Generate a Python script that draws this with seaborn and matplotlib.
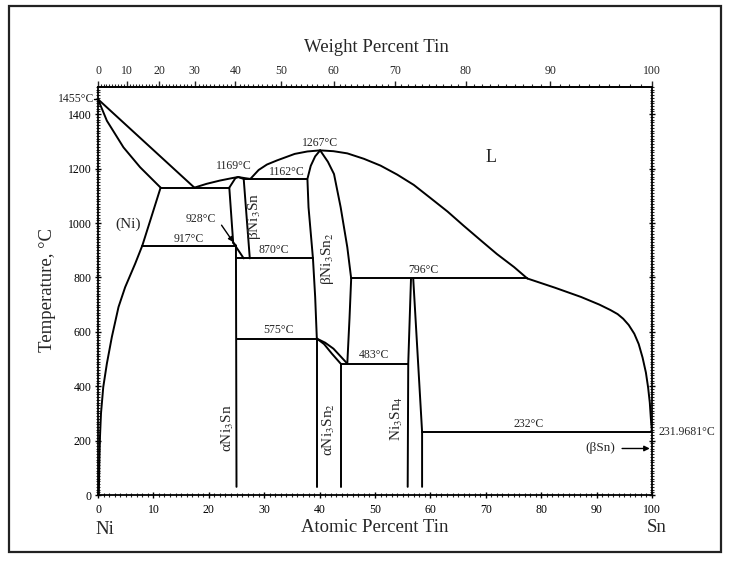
import numpy as np
import pandas as pd
import matplotlib
matplotlib.use("Agg")
import matplotlib.pyplot as plt
from matplotlib.ticker import MultipleLocator, FixedLocator
from matplotlib.patches import Rectangle
import seaborn as sns

# ---------------------------------------------------------------
# Ni-Sn phase boundaries, (atomic % Sn, temperature in deg C)
# ---------------------------------------------------------------
liq_ni_at = [0, 17.4]
liq_ni_T = [1455, 1130]

sol_ni_at = [0, 1.6, 4.6, 7.6, 11.3]
sol_ni_T = [1455, 1376, 1278, 1205, 1130]

solvus_ni_at = [11.3, 9.6, 8.0, 6.7, 4.9, 3.7, 2.5, 1.6, 0.95, 0.54, 0.36, 0.24, 0.15]
solvus_ni_T = [1130, 1020, 917, 850, 764, 691, 581, 483, 397, 300, 214, 116, 0]

eut_1130_at = [11.3, 23.7]
eut_1130_T = [1130, 1130]

liq_ni3sn_at = [17.4, 19.6, 22.0, 24.2, 25.3, 26.5, 27.5]
liq_ni3sn_T = [1130, 1144, 1156, 1165, 1169, 1165, 1162]

sol_b_ni3sn_at = [23.7, 24.8, 25.3, 26.3]
sol_b_ni3sn_T = [1130, 1165, 1169, 1162]

b_ni3sn_left_at = [23.7, 24.4]
b_ni3sn_left_T = [1130, 928]

b_ni3sn_right_at = [26.3, 27.4]
b_ni3sn_right_T = [1162, 870]

ab_ni3sn_at = [24.4, 26.3]
ab_ni3sn_T = [928, 870]

eut_928_at = [24.4, 24.9]
eut_928_T = [928, 917]

eut_917_at = [8.0, 24.9]
eut_917_T = [917, 917]

a_ni3sn_at = [24.9, 25.0]
a_ni3sn_T = [917, 30]

eut_1162_at = [26.3, 37.8]
eut_1162_T = [1162, 1162]

dome_at = [27.5, 29.0, 30.5, 32.3, 35.5, 37.8, 40.1, 42.5, 45.0, 48.0, 51.0,
           54.0, 57.0, 60.0, 63.1, 66.0, 69.1, 72.0, 75.1, 77.5]
dome_T = [1162, 1195, 1215, 1230, 1254, 1263, 1267, 1264, 1256, 1236, 1211,
          1178, 1140, 1092, 1042, 990, 936, 886, 838, 796]

b_ni3sn2_left_at = [40.1, 39.2, 38.4, 37.8, 38.0, 38.8, 39.2, 39.5]
b_ni3sn2_left_T = [1267, 1245, 1210, 1162, 1058, 870, 728, 575]

b_ni3sn2_right_at = [40.1, 41.5, 42.6, 43.8, 45.0, 45.7, 45.4, 45.0]
b_ni3sn2_right_T = [1267, 1225, 1180, 1058, 911, 796, 650, 483]

eut_870_at = [25.0, 38.8]
eut_870_T = [870, 870]

eut_575_at = [25.0, 39.5]
eut_575_T = [575, 575]

ab_ni3sn2_upper_at = [39.5, 41.0, 42.5, 44.0, 45.0]
ab_ni3sn2_upper_T = [575, 560, 538, 505, 483]

ab_ni3sn2_lower_at = [39.5, 40.8, 42.2, 43.8]
ab_ni3sn2_lower_T = [575, 555, 520, 483]

a_ni3sn2_left_at = [39.5, 39.5]
a_ni3sn2_left_T = [575, 30]

a_ni3sn2_right_at = [43.8, 43.8]
a_ni3sn2_right_T = [483, 30]

eut_483_at = [43.8, 56.0]
eut_483_T = [483, 483]

per_796_at = [45.7, 77.5]
per_796_T = [796, 796]

ni3sn4_left_at = [56.5, 56.0, 55.9]
ni3sn4_left_T = [796, 483, 30]

ni3sn4_right_at = [56.9, 58.5, 58.5]
ni3sn4_right_T = [796, 232, 30]

eut_232_at = [58.5, 100]
eut_232_T = [232, 232]

liq_sn_at = [77.5, 82.5, 87.2, 90.5, 92.5, 93.8, 94.8, 95.8, 96.8, 97.6, 98.3,
             98.9, 99.3, 99.6, 99.8, 100]
liq_sn_T = [796, 762, 728, 700, 680, 665, 648, 625, 593, 555, 505,
            450, 395, 340, 280, 232]

boundaries = {
    "liq_ni": (liq_ni_at, liq_ni_T),
    "sol_ni": (sol_ni_at, sol_ni_T),
    "solvus_ni": (solvus_ni_at, solvus_ni_T),
    "eut_1130": (eut_1130_at, eut_1130_T),
    "liq_ni3sn": (liq_ni3sn_at, liq_ni3sn_T),
    "sol_b_ni3sn": (sol_b_ni3sn_at, sol_b_ni3sn_T),
    "b_ni3sn_left": (b_ni3sn_left_at, b_ni3sn_left_T),
    "b_ni3sn_right": (b_ni3sn_right_at, b_ni3sn_right_T),
    "ab_ni3sn": (ab_ni3sn_at, ab_ni3sn_T),
    "eut_928": (eut_928_at, eut_928_T),
    "eut_917": (eut_917_at, eut_917_T),
    "a_ni3sn": (a_ni3sn_at, a_ni3sn_T),
    "eut_1162": (eut_1162_at, eut_1162_T),
    "dome": (dome_at, dome_T),
    "b_ni3sn2_left": (b_ni3sn2_left_at, b_ni3sn2_left_T),
    "b_ni3sn2_right": (b_ni3sn2_right_at, b_ni3sn2_right_T),
    "eut_870": (eut_870_at, eut_870_T),
    "eut_575": (eut_575_at, eut_575_T),
    "ab_ni3sn2_upper": (ab_ni3sn2_upper_at, ab_ni3sn2_upper_T),
    "ab_ni3sn2_lower": (ab_ni3sn2_lower_at, ab_ni3sn2_lower_T),
    "a_ni3sn2_left": (a_ni3sn2_left_at, a_ni3sn2_left_T),
    "a_ni3sn2_right": (a_ni3sn2_right_at, a_ni3sn2_right_T),
    "eut_483": (eut_483_at, eut_483_T),
    "per_796": (per_796_at, per_796_T),
    "ni3sn4_left": (ni3sn4_left_at, ni3sn4_left_T),
    "ni3sn4_right": (ni3sn4_right_at, ni3sn4_right_T),
    "eut_232": (eut_232_at, eut_232_T),
    "liq_sn": (liq_sn_at, liq_sn_T),
}

rows = []
for name, (xs, ys) in boundaries.items():
    for order, (x, y) in enumerate(zip(xs, ys)):
        rows.append((name, order, x, y))
df = pd.DataFrame(rows, columns=["boundary", "order", "at_pct", "temp"])

# invariant / special temperatures written on the diagram
temp_labels = [
    ("1169°C", 24.6, 1208),
    ("1162°C", 34.1, 1186),
    ("1267°C", 40.0, 1294),
    ("917°C", 16.3, 940),
    ("870°C", 31.7, 899),
    ("796°C", 58.8, 826),
    ("575°C", 32.6, 606),
    ("483°C", 49.8, 514),
    ("232°C", 77.8, 262),
]

# phase field names: (text, x, y, rotation)
phase_labels = [
    ("(Ni)", 5.5, 997, 0),
    (r"βNi$_3$Sn", 28.2, 1025, 90),
    (r"βNi$_3$Sn$_2$", 41.5, 870, 90),
    (r"αNi$_3$Sn", 23.5, 245, 90),
    (r"αNi$_3$Sn$_2$", 41.6, 239, 90),
    (r"Ni$_3$Sn$_4$", 54.0, 281, 90),
]

M_NI = 58.69
M_SN = 118.71


def at_to_wt(a):
    a = np.clip(np.asarray(a, dtype=float), 0, 100)
    num = a * M_SN
    return 100 * num / (num + (100 - a) * M_NI)


def wt_to_at(w):
    w = np.clip(np.asarray(w, dtype=float), 0, 100)
    num = w / M_SN
    return 100 * num / (num + (100 - w) / M_NI)


sns.set_theme(style="white")
plt.rcParams["font.family"] = ["Liberation Serif", "DejaVu Serif"]
plt.rcParams["mathtext.fontset"] = "stix"

TICK_FS = 8.5
TEMP_FS = 8.5
PHASE_FS = 11
AXIS_FS = 13.5

fig = plt.figure(figsize=(7.30, 5.61), dpi=100)
fig.patch.set_facecolor("white")
ax = fig.add_axes([98 / 730, 1 - 495 / 561, (652 - 98) / 730, (495 - 87) / 561])

sns.lineplot(data=df, x="at_pct", y="temp", units="boundary", estimator=None,
             sort=False, color="black", linewidth=1.4, legend=False, ax=ax)

ax.set_xlim(0, 100)
ax.set_ylim(0, 1500)
ax.set_xlabel("")
ax.set_ylabel("")

ax.xaxis.set_major_locator(MultipleLocator(10))
ax.xaxis.set_minor_locator(MultipleLocator(1))
ax.yaxis.set_major_locator(FixedLocator(list(range(0, 1401, 200))))
ax.yaxis.set_minor_locator(MultipleLocator(10))
ax.tick_params(axis="both", which="major", direction="inout", length=5, width=1.0,
               labelsize=TICK_FS, bottom=True, left=True, right=True, top=False,
               colors="black")
ax.tick_params(axis="both", which="minor", direction="inout", length=2.5, width=0.8,
               bottom=True, left=True, right=True, top=False)
ax.tick_params(axis="x", which="major", pad=4)
ax.tick_params(axis="y", which="major", pad=2)
for sp in ax.spines.values():
    sp.set_color("black")
    sp.set_linewidth(1.3)

secax = ax.secondary_xaxis("top", functions=(at_to_wt, wt_to_at))
secax.xaxis.set_major_locator(FixedLocator(list(range(0, 101, 10))))
secax.xaxis.set_minor_locator(FixedLocator(list(range(0, 101, 1))))
secax.tick_params(which="major", direction="out", length=4, width=1.0,
                  labelsize=TICK_FS, pad=3)
secax.tick_params(which="minor", direction="out", length=2, width=0.8)
secax.spines["top"].set_linewidth(1.3)

# melting point of Ni, written as an extra tick label
ax.text(-0.7, 1455, "1455°C", ha="right", va="center", fontsize=TICK_FS)
ax.plot([-0.7, 0], [1455, 1455], color="black", lw=1.0, clip_on=False)

for txt, x, y in temp_labels:
    ax.text(x, y, txt, ha="center", va="center", fontsize=TEMP_FS)

for txt, x, y, rot in phase_labels:
    ax.text(x, y, txt, ha="center", va="center", fontsize=PHASE_FS, rotation=rot)

ax.text(70.9, 1241, "L", ha="center", va="center", fontsize=13)

# eutectoid point of Ni3Sn with its pointer
ax.text(18.5, 1013, "928°C", ha="center", va="center", fontsize=TEMP_FS)
ax.annotate("", xy=(24.4, 930), xytext=(22.3, 992),
            arrowprops=dict(arrowstyle="-|>", color="black", lw=1.0,
                            mutation_scale=7, shrinkA=0, shrinkB=0))

# melting point of Sn and the (βSn) terminal solution
ax.text(101.2, 232, "231.9681°C", ha="left", va="center", fontsize=TICK_FS, clip_on=False)
ax.text(90.6, 171, "(βSn)", ha="center", va="center", fontsize=9.5)
ax.annotate("", xy=(99.6, 171), xytext=(94.6, 171),
            arrowprops=dict(arrowstyle="-|>", color="black", lw=1.0,
                            mutation_scale=8, shrinkA=0, shrinkB=0))

fig.text(376 / 730, 1 - 47 / 561, "Weight Percent Tin", ha="center", va="center", fontsize=AXIS_FS)
fig.text(375 / 730, 1 - 528 / 561, "Atomic Percent Tin", ha="center", va="center", fontsize=AXIS_FS)
fig.text(105 / 730, 1 - 530 / 561, "Ni", ha="center", va="center", fontsize=AXIS_FS)
fig.text(657 / 730, 1 - 528 / 561, "Sn", ha="center", va="center", fontsize=AXIS_FS)
fig.text(48 / 730, 1 - 290 / 561, "Temperature, °C", ha="center", va="center",
         fontsize=AXIS_FS, rotation=90)

# outer frame around the whole figure
fig.add_artist(Rectangle((9 / 730, 1 - 552 / 561), 712 / 730, 546 / 561,
                         transform=fig.transFigure, fill=False,
                         edgecolor="#222222", linewidth=1.6))

fig.savefig("out.png", dpi=100, facecolor="white")
